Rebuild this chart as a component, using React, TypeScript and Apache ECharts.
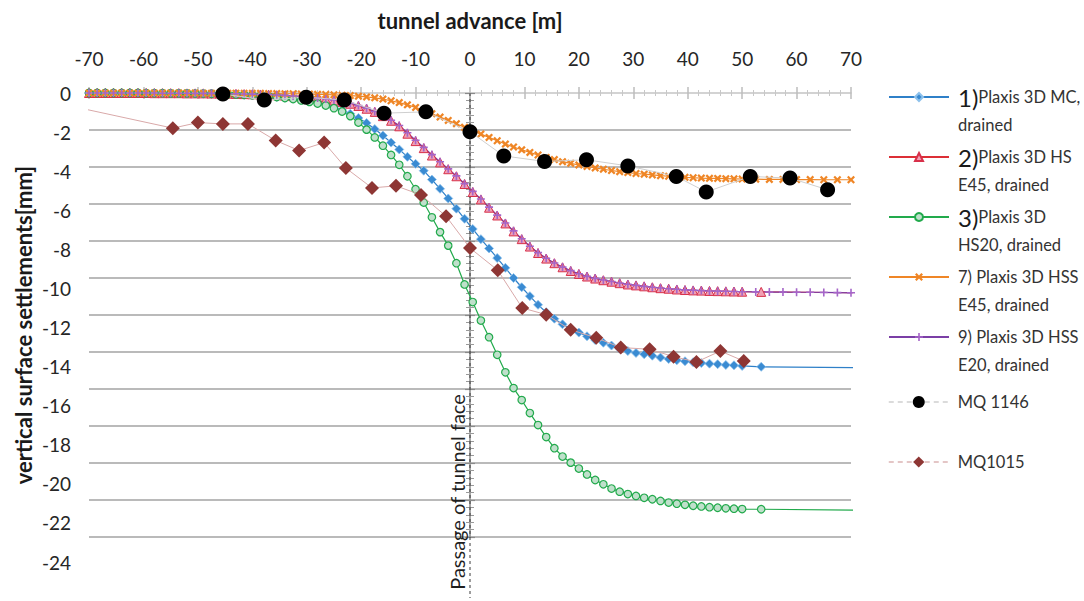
import React, { useEffect, useRef } from "react";
import * as echarts from "echarts";

// ---------- data ----------
const SIM_X = [
  -70, -68.5, -67, -65.5, -64, -62.5, -61, -59.5, -58, -56.5,
  -55, -53.5, -52, -50.5, -49, -47.5, -46, -44.5, -43, -41.5,
  -40, -38.5, -37, -35.5, -34, -32.5, -31, -29.5, -28, -26.5,
  -25, -23.5, -22, -20.5, -19, -17.5, -16, -14.5, -13, -11.5,
  -10, -8.5, -7, -5.5, -4, -2.5, -1, 0.5, 2, 3.5,
  5, 6.5, 8, 9.5, 11, 12.5, 14, 15.5, 17, 18.5,
  20, 21.5, 23, 24.5, 26, 27.5, 29, 30.5, 32, 33.5,
  35, 36.5, 38, 39.5, 41, 42.5, 44, 45.5, 47, 48.5,
  50,
];
const TAIL_X_A = [53.5, 71];
const TAIL_X_B = [52.5, 55, 57.5, 60, 62.5, 65, 67.5, 70];

const MC_Y = [
  0, 0, 0, 0, 0, 0, -0.01, -0.01, -0.01, -0.02,
  -0.02, -0.02, -0.03, -0.03, -0.04, -0.05, -0.06, -0.07, -0.08, -0.1,
  -0.12, -0.14, -0.17, -0.21, -0.25, -0.3, -0.36, -0.42, -0.5, -0.6,
  -0.75, -0.92, -1.12, -1.35, -1.62, -1.95, -2.3, -2.68, -3.05, -3.45,
  -3.83, -4.2, -4.68, -5.18, -5.7, -6.25, -6.8, -7.35, -7.9, -8.4,
  -8.92, -9.45, -10.0, -10.5, -10.98, -11.45, -11.85, -12.2, -12.5, -12.75,
  -12.95, -13.15, -13.35, -13.5, -13.65, -13.82, -13.95, -14.05, -14.12, -14.2,
  -14.3, -14.38, -14.45, -14.5, -14.55, -14.6, -14.63, -14.66, -14.7, -14.72,
  -14.75, -14.8, -14.85,
];
const HS45_Y = [
  0, 0, 0, 0, 0, 0, 0, 0, -0.01, -0.01,
  -0.01, -0.01, -0.02, -0.02, -0.02, -0.03, -0.03, -0.04, -0.05, -0.06,
  -0.07, -0.08, -0.1, -0.12, -0.14, -0.17, -0.2, -0.24, -0.28, -0.33,
  -0.4, -0.48, -0.58, -0.7, -0.85, -1.02, -1.25, -1.5, -1.8, -2.2,
  -2.6, -2.98, -3.38, -3.75, -4.12, -4.5, -4.92, -5.35, -5.75, -6.2,
  -6.62, -7.05, -7.48, -7.9, -8.3, -8.65, -8.95, -9.2, -9.42, -9.62,
  -9.78, -9.92, -10.03, -10.12, -10.2, -10.28, -10.35, -10.4, -10.45, -10.5,
  -10.55, -10.58, -10.62, -10.65, -10.67, -10.68, -10.7, -10.71, -10.72, -10.73,
  -10.74, -10.75, -10.8,
];
const HS20_Y = [
  0, 0, 0, 0, 0, 0, 0, -0.01, -0.01, -0.01,
  -0.02, -0.02, -0.02, -0.03, -0.03, -0.04, -0.05, -0.06, -0.08, -0.1,
  -0.12, -0.15, -0.18, -0.22, -0.27, -0.33, -0.4, -0.48, -0.57, -0.68,
  -0.82, -1.0, -1.25, -1.6, -1.98, -2.4, -2.85, -3.35, -3.88, -4.5,
  -5.2, -5.92, -6.72, -7.52, -8.25, -9.2, -10.35, -11.3, -12.3, -13.2,
  -14.15, -15.1, -15.95, -16.6, -17.3, -17.95, -18.6, -19.2, -19.65, -19.98,
  -20.3, -20.62, -20.92, -21.15, -21.38, -21.55, -21.68, -21.78, -21.88, -21.96,
  -22.05, -22.14, -22.2, -22.26, -22.31, -22.35, -22.39, -22.42, -22.45, -22.47,
  -22.49, -22.5, -22.55,
];
const HSS45_Y = [
  0, 0, 0, 0, 0, 0, 0, 0, 0, 0,
  0, 0, 0, 0, -0.01, -0.01, -0.01, -0.01, -0.01, -0.02,
  -0.02, -0.02, -0.03, -0.03, -0.04, -0.04, -0.05, -0.06, -0.07, -0.08,
  -0.1, -0.12, -0.14, -0.17, -0.21, -0.26, -0.33, -0.42, -0.52, -0.64,
  -0.78, -0.95, -1.12, -1.3, -1.48, -1.66, -1.85, -2.04, -2.22, -2.4,
  -2.58, -2.76, -2.92, -3.07, -3.21, -3.35, -3.48, -3.6, -3.71, -3.8,
  -3.89, -3.97, -4.05, -4.12, -4.19, -4.25, -4.3, -4.35, -4.39, -4.43,
  -4.47, -4.5, -4.53, -4.56, -4.58, -4.6, -4.61, -4.62, -4.63, -4.64,
  -4.65, -4.66, -4.67, -4.67, -4.68, -4.68, -4.69, -4.69, -4.69,
];
const HSS20_Y = [
  0, 0, 0, 0, 0, 0, 0, 0, 0, -0.01,
  -0.01, -0.01, -0.01, -0.02, -0.02, -0.02, -0.03, -0.04, -0.04, -0.05,
  -0.06, -0.08, -0.09, -0.11, -0.13, -0.16, -0.19, -0.23, -0.27, -0.32,
  -0.38, -0.46, -0.56, -0.68, -0.82, -1.0, -1.22, -1.47, -1.76, -2.15,
  -2.55, -2.94, -3.33, -3.72, -4.1, -4.48, -4.9, -5.32, -5.73, -6.17,
  -6.6, -7.03, -7.45, -7.88, -8.28, -8.63, -8.93, -9.19, -9.41, -9.6,
  -9.77, -9.91, -10.02, -10.11, -10.19, -10.27, -10.34, -10.4, -10.45, -10.5,
  -10.54, -10.58, -10.61, -10.64, -10.66, -10.68, -10.7, -10.71, -10.72, -10.73,
  -10.74, -10.75, -10.76, -10.76, -10.77, -10.77, -10.78, -10.79, -10.8,
];

const MQ1146_X = [-45.4, -37.8, -30.1, -23.1, -15.8, -8.1, 0, 6.2, 13.7, 21.4, 29, 37.9, 43.4, 51.5, 58.8, 65.7];
const MQ1146_Y = [-0.05, -0.38, -0.23, -0.38, -1.09, -1.02, -2.09, -3.4, -3.7, -3.61, -3.94, -4.51, -5.35, -4.51, -4.6, -5.23];

const MQ1015_X = [-75, -54.6, -50, -45.4, -40.8, -35.7, -31.4, -26.8, -22.8, -18, -13.6, -9, -4.4, 0, 5.1, 9.6, 14, 18.5, 23.2, 27.7, 33, 37.4, 41.6, 46, 50.3];
const MQ1015_Y = [-0.6, -1.9, -1.6, -1.67, -1.67, -2.57, -3.11, -2.68, -4.06, -5.13, -5.02, -5.51, -6.66, -8.38, -9.58, -11.62, -11.98, -12.8, -13.23, -13.76, -13.85, -14.25, -14.54, -13.95, -14.49];

const X_TICKS = { min: -70, max: 70, interval: 10 };
const Y_TICKS = { min: -24, max: 0, interval: 2 };

const NAMES = [
  "1)Plaxis 3D MC, drained",
  "2)Plaxis 3D HS E45, drained",
  "3)Plaxis 3D HS20, drained",
  "7) Plaxis 3D HSS E45, drained",
  "9) Plaxis 3D HSS E20, drained",
  "MQ 1146",
  "MQ1015",
];
const LEGEND_TEXT: Record<string, string> = {
  [NAMES[0]]: "{e| }\n{b|1)}{s|Plaxis 3D MC,}\n{s|drained}",
  [NAMES[1]]: "{e| }\n{b|2)}{s|Plaxis 3D HS}\n{s|E45, drained}",
  [NAMES[2]]: "{e| }\n{b|3)}{s|Plaxis 3D}\n{s|HS20, drained}",
  [NAMES[3]]: "{e| }\n{s|7) Plaxis 3D HSS}\n{s|E45, drained}",
  [NAMES[4]]: "{e| }\n{s|9) Plaxis 3D HSS}\n{s|E20, drained}",
  [NAMES[5]]: "{e| }\n{s|MQ 1146}\n{e| }",
  [NAMES[6]]: "{e| }\n{s|MQ1015}\n{e| }",
};

const X_NAME = "tunnel advance [m]";
const Y_NAME = "vertical surface settlements[mm]";
const FACE_LABEL = "Passage of tunnel face";

const zip = (xs: number[], ys: number[]) => xs.map((x, i) => [x, ys[i]]);

const X_PATH = "path://M0,2 L2,0 L5,3 L8,0 L10,2 L7,5 L10,8 L8,10 L5,7 L2,10 L0,8 L3,5 Z";
const PLUS_PATH = "path://M4,0 H6 V4 H10 V6 H6 V10 H4 V6 H0 V4 H4 Z";

const COLORS = {
  mc: "#2f80c8",
  hs45: "#dc2f36",
  hs20: "#22aa4c",
  hss45: "#ef8626",
  hss20: "#7b3fa6",
  mq1146: "#000000",
  mq1015: "#8e3634",
};

const TEXT_COLOR = "#262626";

function buildOption() {
  const richText = {
    e: { fontSize: 16, lineHeight: 28, fontFamily: "Lato" },
    b: { fontSize: 24, lineHeight: 28, color: "#1a1a1a", fontFamily: "Lato" },
    s: { fontSize: 16.5, lineHeight: 28, color: "#333333", fontFamily: "Lato" },
  };
  const legendTops = [61, 121, 181, 241, 301, 366, 426];
  const legendHeights = [10, 10, 10, 10, 10, 15, 14];
  const legends = NAMES.map((n, i) => ({
    show: true,
    left: 888,
    top: legendTops[i],
    padding: 0,
    orient: "vertical",
    itemWidth: 60,
    itemHeight: legendHeights[i],
    selectedMode: false,
    data: [
      i >= 5
        ? { name: n, lineStyle: { type: [5, 4], width: 1.5, color: i === 5 ? "#cfcfcf" : "#dcb4b4" } }
        : { name: n, lineStyle: { width: 2 } },
    ],
    formatter: (name: string) => LEGEND_TEXT[name],
    textStyle: { rich: richText, padding: [0, 0, 0, 4] },
  }));

  const splitColors = Array.from({ length: 13 }, (_, i) => (i === 12 ? "rgba(0,0,0,0)" : "#a3a3a3"));

  const simSeries = (name: string, xs: number[], ys: number[], color: string, symbol: string, size: number, itemStyle: any) => ({
    name,
    type: "line",
    data: zip(xs, ys),
    symbol,
    symbolSize: size,
    showSymbol: true,
    showAllSymbol: true,
    lineStyle: { color, width: 1.2 },
    itemStyle,
    z: 3,
  });

  return {
    animation: false,
    textStyle: { fontFamily: "Lato" },
    grid: [
      { left: 89, top: 93, width: 762, height: 444, containLabel: false },
      { left: 89, top: 93, width: 762, height: 469, containLabel: false },
    ],
    xAxis: [
      {
        type: "value",
        gridIndex: 0,
        position: "top",
        ...X_TICKS,
        axisLine: { show: true, lineStyle: { color: "#c4c4c4", width: 1.5 } },
        axisTick: { show: true, length: 6, lineStyle: { color: "#bcbcbc", width: 1.5 } },
        minorTick: { show: true, splitNumber: 5, length: 3, lineStyle: { color: "#c8c8c8", width: 1 } },
        axisLabel: { show: true, fontSize: 19, color: TEXT_COLOR, margin: 25, fontFamily: "Lato" },
        splitLine: { show: false },
        name: X_NAME,
        nameLocation: "middle",
        nameGap: 62,
        nameTextStyle: { fontSize: 22, fontWeight: "bold", color: "#1a1a1a", fontFamily: "Lato" },
      },
      {
        type: "value",
        gridIndex: 0,
        position: "top",
        ...X_TICKS,
        axisLine: { show: false },
        axisTick: { show: true, inside: true, length: 6, lineStyle: { color: "#bcbcbc", width: 1.5 } },
        minorTick: { show: true, splitNumber: 5, length: 3, lineStyle: { color: "#c8c8c8", width: 1 } },
        axisLabel: { show: false },
        splitLine: { show: false },
      },
      { type: "value", gridIndex: 1, show: false, ...X_TICKS },
    ],
    yAxis: [
      {
        type: "value",
        gridIndex: 0,
        position: "left",
        ...Y_TICKS,
        axisLine: { show: true, lineStyle: { color: "#8a8a8a", width: 1.5 } },
        axisTick: { show: true, length: 5, lineStyle: { color: "#8a8a8a", width: 1.2 } },
        minorTick: { show: true, splitNumber: 5, length: 4, lineStyle: { color: "#9a9a9a", width: 1 } },
        axisLabel: { show: false },
        splitLine: { show: true, lineStyle: { color: splitColors, width: 1.5 } },
      },
      {
        type: "value",
        gridIndex: 0,
        position: "left",
        ...Y_TICKS,
        axisLine: { show: false },
        axisTick: { show: true, inside: true, length: 5, lineStyle: { color: "#8a8a8a", width: 1.2 } },
        minorTick: { show: true, splitNumber: 5, length: 4, lineStyle: { color: "#9a9a9a", width: 1 } },
        axisLabel: { show: false },
        splitLine: { show: false },
      },
      {
        type: "value",
        gridIndex: 1,
        position: "left",
        ...Y_TICKS,
        axisLine: { show: false },
        axisTick: { show: false },
        axisLabel: { show: true, fontSize: 19, color: TEXT_COLOR, margin: 18, fontFamily: "Lato" },
        splitLine: { show: false },
      },
    ],
    legend: legends,
    series: [
      simSeries(NAMES[0], SIM_X.concat(TAIL_X_A), MC_Y, COLORS.mc, "diamond", 9, {
        color: "#3a8bd2",
        borderColor: "#8ec2ec",
        borderWidth: 0.8,
      }),
      simSeries(NAMES[1], SIM_X.concat(TAIL_X_A), HS45_Y, COLORS.hs45, "triangle", 9, {
        color: "#f0a0b4",
        borderColor: "#d8304a",
        borderWidth: 1,
      }),
      simSeries(NAMES[2], SIM_X.concat(TAIL_X_A), HS20_Y, COLORS.hs20, "circle", 7.5, {
        color: "#bfe0cb",
        borderColor: COLORS.hs20,
        borderWidth: 1.2,
      }),
      simSeries(NAMES[3], SIM_X.concat(TAIL_X_B), HSS45_Y, COLORS.hss45, X_PATH, 8, {
        color: COLORS.hss45,
      }),
      simSeries(NAMES[4], SIM_X.concat(TAIL_X_B), HSS20_Y, COLORS.hss20, PLUS_PATH, 8, {
        color: "#a565c8",
      }),
      {
        name: NAMES[5],
        type: "line",
        data: zip(MQ1146_X, MQ1146_Y),
        symbol: "circle",
        symbolSize: 15,
        showAllSymbol: true,
        lineStyle: { color: "#cfcfcf", width: 1 },
        itemStyle: { color: COLORS.mq1146 },
        z: 5,
      },
      {
        name: NAMES[6],
        type: "line",
        clip: true,
        data: MQ1015_X.map((x, i) =>
          i === 0 ? { value: [x, MQ1015_Y[i]], symbol: "none" } : [x, MQ1015_Y[i]]
        ),
        symbol: "diamond",
        symbolSize: 14,
        showAllSymbol: true,
        lineStyle: { color: "#d9a9a9", width: 1 },
        itemStyle: { color: COLORS.mq1015 },
        z: 5,
      },
    ],
  };
}

export default function App() {
  const ref = useRef<HTMLDivElement>(null);
  useEffect(() => {
    document.body.style.margin = "0";
    const chart = echarts.init(ref.current!, null, { renderer: "svg" });
    chart.setOption(buildOption() as any);
    const x0 = chart.convertToPixel({ xAxisIndex: 0 } as any, 0) as unknown as number;
    const yTop = chart.convertToPixel({ yAxisIndex: 0 } as any, 0) as unknown as number;
    chart.setOption({
      graphic: [
        {
          type: "line",
          z: 1,
          shape: { x1: x0, y1: yTop, x2: x0, y2: 598 },
          style: { stroke: "#3a3a3a", lineWidth: 1, lineDash: [3, 3] },
        },
        {
          type: "text",
          z: 1,
          x: x0 - 13,
          y: 492,
          rotation: Math.PI / 2,
          style: {
            text: FACE_LABEL,
            font: "20px Lato",
            fill: "#1f1f1f",
            align: "center",
            verticalAlign: "middle",
          },
        },
        {
          type: "text",
          z: 1,
          x: 23,
          y: 325,
          rotation: Math.PI / 2,
          style: {
            text: Y_NAME,
            font: "bold 22px Lato",
            fill: "#1a1a1a",
            align: "center",
            verticalAlign: "middle",
          },
        },
      ],
    });
    return () => chart.dispose();
  }, []);
  return <div ref={ref} style={{ width: 1084, height: 601 }} />;
}
